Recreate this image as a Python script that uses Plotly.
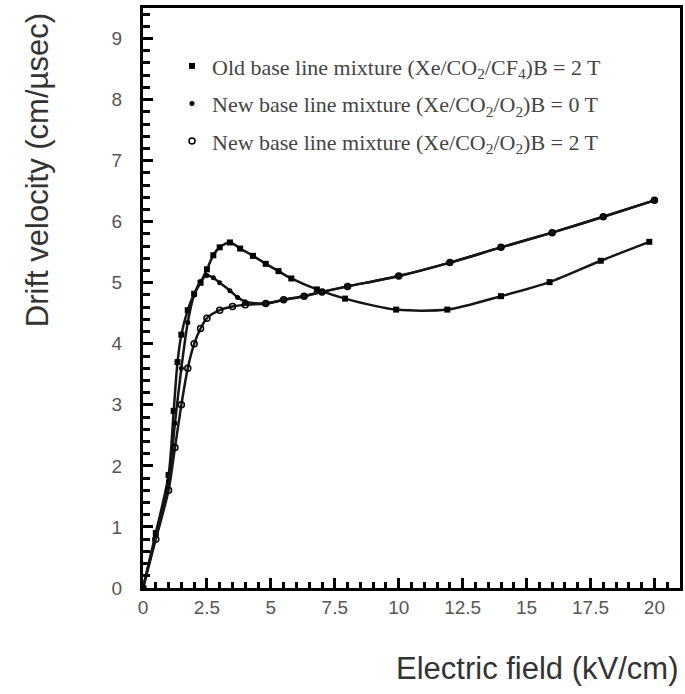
import plotly.graph_objects as go

# Electric field (kV/cm) and drift velocity (cm/µsec) for each gas mixture
field_old = [0, 0.5, 1.0, 1.2, 1.35, 1.5, 1.75, 2.0, 2.25, 2.5, 2.75, 3.0, 3.4, 3.8,
             4.3, 4.8, 5.3, 5.8, 6.8, 7.9, 9.9, 11.9, 14.0, 15.9, 17.9, 19.8]
vel_old = [0, 0.9, 1.85, 2.9, 3.7, 4.15, 4.55, 4.82, 5.0, 5.22, 5.45, 5.58, 5.66, 5.56,
           5.44, 5.31, 5.19, 5.07, 4.89, 4.74, 4.56, 4.56, 4.78, 5.01, 5.36, 5.67]

field_new0 = [0, 0.5, 1.0, 1.25, 1.5, 1.75, 2.0, 2.25, 2.5, 2.75, 3.0, 3.4, 3.7, 4.0,
              4.8, 5.5, 6.3, 7.0, 8.0, 10.0, 12.0, 14.0, 16.0, 18.0, 20.0]
vel_new0 = [0, 0.85, 1.75, 2.7, 3.6, 4.35, 4.8, 5.02, 5.12, 5.08, 5.0, 4.87, 4.76, 4.69,
            4.66, 4.72, 4.78, 4.85, 4.94, 5.11, 5.33, 5.58, 5.82, 6.08, 6.35]

field_new2 = [0, 0.5, 1.0, 1.25, 1.5, 1.75, 2.0, 2.25, 2.5, 3.0, 3.5, 4.0,
              4.8, 5.5, 6.3, 7.0, 8.0, 10.0, 12.0, 14.0, 16.0, 18.0, 20.0]
vel_new2 = [0, 0.8, 1.6, 2.3, 3.0, 3.6, 4.0, 4.25, 4.42, 4.55, 4.61, 4.64,
            4.66, 4.72, 4.78, 4.85, 4.94, 5.11, 5.33, 5.58, 5.82, 6.08, 6.35]

names = [
    "Old base line mixture (Xe/CO<sub>2</sub>/CF<sub>4</sub>)B = 2 T",
    "New base line mixture (Xe/CO<sub>2</sub>/O<sub>2</sub>)B = 0 T",
    "New base line mixture (Xe/CO<sub>2</sub>/O<sub>2</sub>)B = 2 T",
]

x_ticks = [0, 2.5, 5, 7.5, 10, 12.5, 15, 17.5, 20]
x_ticktext = ["0", "2.5", "5", "7.5", "10", "12.5", "15", "17.5", "20"]
y_ticks = list(range(0, 10))

series = [
    (field_old, vel_old, names[0], dict(symbol="square", size=6, color="black")),
    (field_new0, vel_new0, names[1], dict(symbol="circle", size=5, color="black")),
    (field_new2, vel_new2, names[2],
     dict(symbol="circle-open", size=6, color="black", line=dict(width=1.5, color="black"))),
]

fig = go.Figure()
for i, (xs, ys, nm, mk) in enumerate(series):
    # measured curve, smoothed through the points
    fig.add_trace(go.Scatter(
        x=xs, y=ys, name=nm, mode="lines+markers",
        line=dict(color="#161616", width=2.5, shape="spline", smoothing=0.8),
        marker=mk, showlegend=False,
    ))
    # legend entry showing the symbol only
    fig.add_trace(go.Scatter(
        x=[None], y=[None], name=nm, mode="markers", marker=mk,
        legendgroup=f"g{i}", showlegend=True,
    ))

axis_common = dict(
    showgrid=False, zeroline=False, showline=True, linecolor="black", linewidth=3,
    mirror=True, ticks="inside", tickcolor="black", tickwidth=3,
    tickfont=dict(family="Liberation Sans, Arial, sans-serif", size=19, color="#555"),
)

fig.update_xaxes(
    range=[0, 21.0], tickvals=x_ticks, ticktext=x_ticktext, ticklen=10,
    minor=dict(dtick=0.5, ticklen=6, tickwidth=3, ticks="inside", tickcolor="black"),
    **axis_common,
)
fig.update_yaxes(
    range=[0, 9.5], tickvals=y_ticks, ticklen=10, ticklabelstandoff=14,
    minor=dict(dtick=0.2, ticklen=7, tickwidth=3, ticks="inside", tickcolor="black"),
    **axis_common,
)

title_font = dict(family="Liberation Sans, Arial, sans-serif", size=31, color="#333")
fig.add_annotation(text="Electric field (kV/cm)", xref="paper", yref="paper",
                   x=1.0, y=-0.106, xanchor="right", yanchor="top",
                   showarrow=False, font=title_font)
fig.add_annotation(text="Drift velocity (cm/µsec)", xref="paper", yref="paper",
                   x=-0.196, y=0.72, xanchor="center", yanchor="middle", textangle=-90,
                   showarrow=False, font=title_font)

fig.update_layout(
    width=685, height=694,
    margin=dict(l=143, r=2, t=8, b=106),
    paper_bgcolor="white", plot_bgcolor="white",
    showlegend=True,
    legend=dict(
        x=0.054, y=0.936, xanchor="left", yanchor="top",
        bgcolor="rgba(0,0,0,0)", borderwidth=0,
        font=dict(family="Liberation Serif, Times New Roman, serif", size=22, color="#444"),
        tracegroupgap=6, itemwidth=30,
    ),
)

fig.write_html("out.html")
